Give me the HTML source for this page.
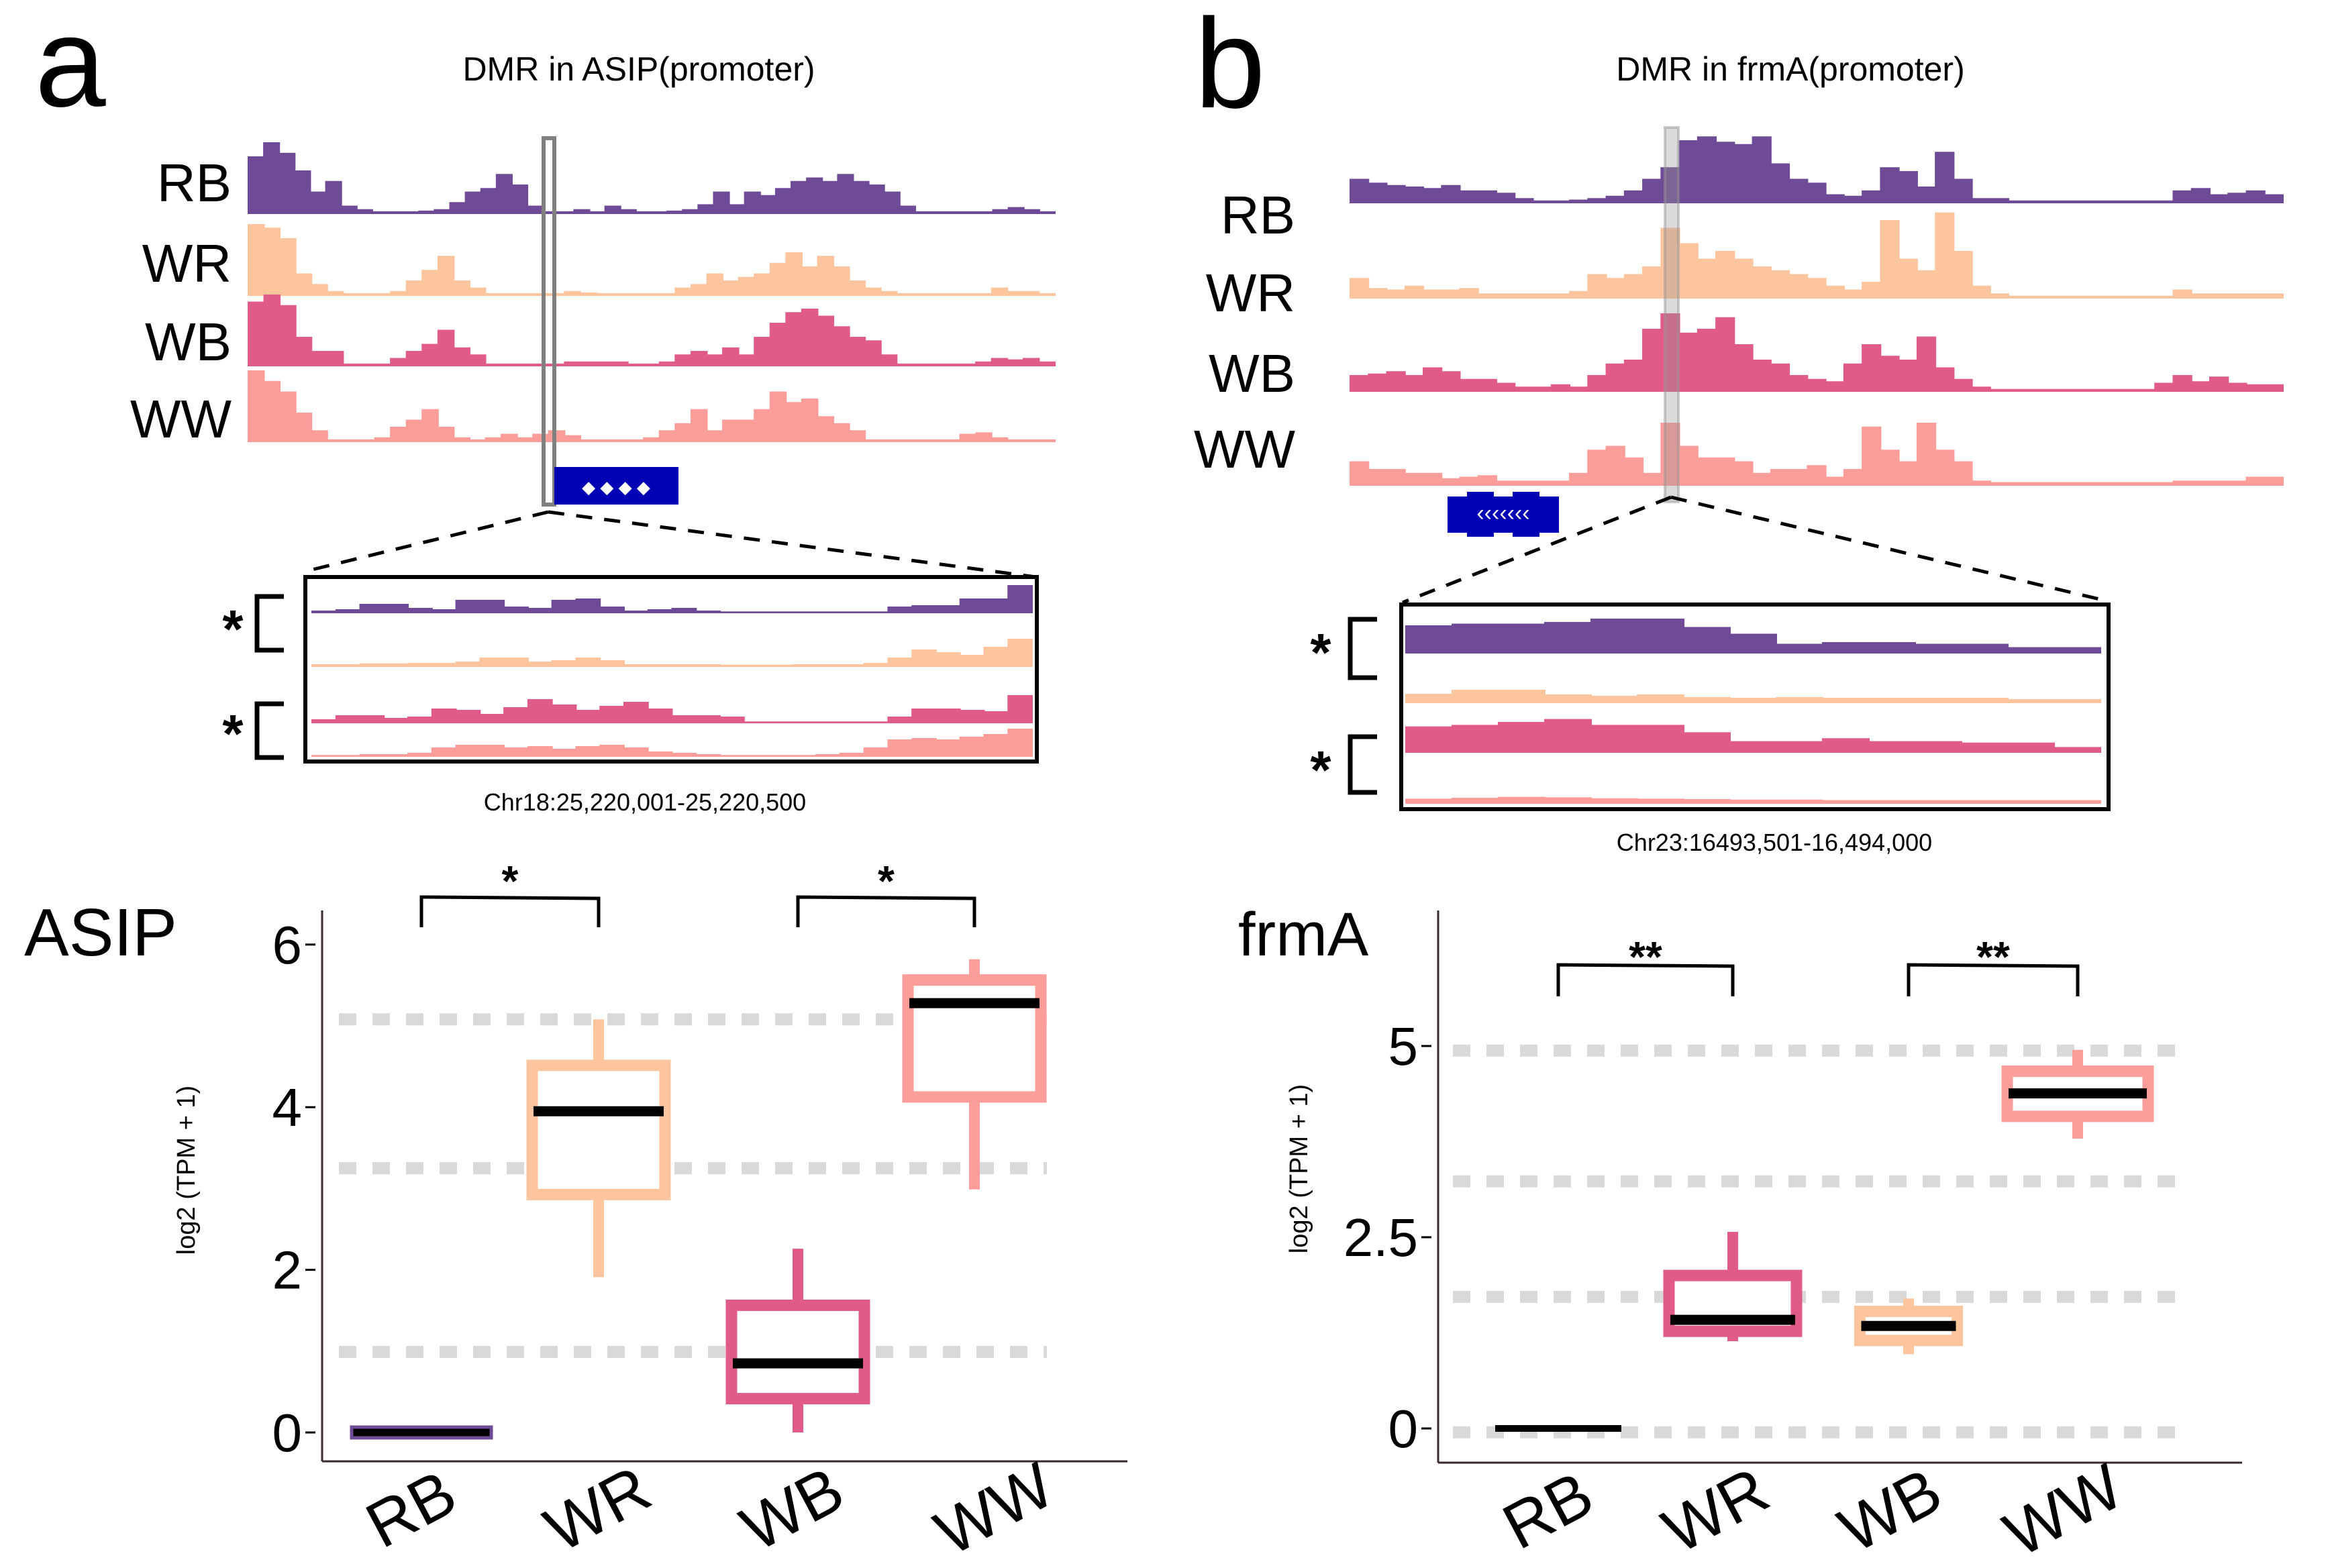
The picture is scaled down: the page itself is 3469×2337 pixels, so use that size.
<!DOCTYPE html>
<html><head><meta charset="utf-8"><style>
html,body{margin:0;padding:0;background:#fff}
svg{display:block}
text{font-family:"Liberation Sans",sans-serif}
</style></head><body>
<svg id="fig" width="3469" height="2337" viewBox="0 0 3469 2337" xmlns="http://www.w3.org/2000/svg">
<rect width="3469" height="2337" fill="#fff"/>
<text x="52" y="158" font-size="190">a</text>
<text x="1780" y="160" font-size="190">b</text>
<text x="952" y="120" font-size="50" text-anchor="middle">DMR in ASIP(promoter)</text>
<text x="2668" y="120" font-size="50" text-anchor="middle">DMR in frmA(promoter)</text>
<text x="961" y="1208" font-size="36" text-anchor="middle">Chr18:25,220,001-25,220,500</text>
<text x="2644" y="1268" font-size="36" text-anchor="middle">Chr23:16493,501-16,494,000</text>
<text x="36" y="1424" font-size="100">ASIP</text>
<text x="1845" y="1424" font-size="92">frmA</text>
<text transform="translate(290,1744) rotate(-90)" font-size="38" text-anchor="middle">log2 (TPM + 1)</text>
<text transform="translate(1948,1742) rotate(-90)" font-size="38" text-anchor="middle">log2 (TPM + 1)</text>
<g id="layer"></g>
</svg>
<script>
// ---------- data ----------
const groups = ["RB","WR","WB","WW"];
const colRB="#6f4a96", colWR="#fdc59e", colWB="#e05a8a", colWW="#fc9d9a";
const aRB=[0.8,1.0,0.85,0.6,0.3,0.45,0.1,0.05,0.02,0.02,0.02,0.03,0.05,0.15,0.3,0.35,0.55,0.4,0.1,0.02,0.02,0.05,0.02,0.1,0.05,0.02,0.02,0.03,0.05,0.12,0.3,0.12,0.3,0.25,0.35,0.45,0.5,0.45,0.55,0.45,0.4,0.3,0.1,0.02,0.02,0.02,0.02,0.02,0.05,0.08,0.05,0.02];
const aWR=[1.0,0.95,0.8,0.3,0.15,0.05,0.02,0.02,0.02,0.05,0.2,0.35,0.55,0.2,0.1,0.02,0.02,0.02,0.02,0.02,0.05,0.03,0.02,0.02,0.02,0.02,0.02,0.1,0.15,0.3,0.2,0.25,0.3,0.45,0.6,0.4,0.55,0.4,0.2,0.1,0.05,0.02,0.02,0.02,0.02,0.02,0.02,0.1,0.05,0.05,0.02];
const aWB=[0.9,1.0,0.85,0.4,0.2,0.2,0.02,0.02,0.02,0.1,0.2,0.3,0.5,0.25,0.15,0.02,0.02,0.02,0.02,0.02,0.05,0.05,0.05,0.05,0.02,0.02,0.05,0.15,0.2,0.15,0.25,0.15,0.4,0.6,0.75,0.8,0.7,0.55,0.4,0.35,0.15,0.02,0.02,0.02,0.02,0.02,0.05,0.1,0.08,0.1,0.05];
const aWW=[1.0,0.85,0.7,0.4,0.15,0.02,0.02,0.02,0.05,0.2,0.3,0.45,0.2,0.05,0.02,0.05,0.1,0.05,0.1,0.15,0.08,0.02,0.02,0.02,0.02,0.05,0.15,0.25,0.45,0.15,0.3,0.3,0.45,0.7,0.55,0.6,0.35,0.25,0.15,0.02,0.02,0.02,0.02,0.02,0.02,0.1,0.12,0.05,0.02,0.02,0.02];
const bRB=[0.3,0.25,0.22,0.2,0.18,0.22,0.15,0.15,0.12,0.05,0.02,0.02,0.03,0.05,0.08,0.15,0.3,0.45,0.8,0.85,0.78,0.75,0.85,0.5,0.3,0.25,0.1,0.08,0.15,0.45,0.4,0.2,0.65,0.3,0.05,0.05,0.02,0.02,0.02,0.02,0.02,0.02,0.02,0.02,0.02,0.15,0.18,0.1,0.12,0.15,0.1];
const bWR=[0.25,0.12,0.1,0.15,0.1,0.1,0.12,0.05,0.05,0.05,0.05,0.05,0.08,0.3,0.25,0.3,0.4,0.9,0.7,0.5,0.6,0.5,0.4,0.35,0.3,0.25,0.15,0.1,0.2,1.0,0.5,0.35,1.1,0.6,0.15,0.05,0.02,0.02,0.02,0.02,0.02,0.02,0.02,0.02,0.02,0.1,0.05,0.05,0.05,0.05,0.05];
const bWB=[0.2,0.22,0.25,0.2,0.3,0.25,0.15,0.15,0.1,0.05,0.05,0.08,0.05,0.2,0.35,0.4,0.8,1.0,0.75,0.8,0.95,0.6,0.4,0.35,0.2,0.15,0.12,0.35,0.6,0.45,0.4,0.7,0.3,0.15,0.05,0.02,0.02,0.02,0.02,0.02,0.02,0.02,0.02,0.02,0.1,0.2,0.12,0.18,0.1,0.08,0.08];
const bWW=[0.3,0.2,0.2,0.15,0.15,0.08,0.1,0.12,0.05,0.05,0.05,0.05,0.15,0.45,0.5,0.35,0.15,0.8,0.5,0.35,0.35,0.3,0.15,0.2,0.2,0.25,0.1,0.2,0.75,0.45,0.3,0.8,0.45,0.3,0.05,0.03,0.03,0.03,0.03,0.03,0.03,0.03,0.03,0.03,0.03,0.05,0.05,0.05,0.05,0.1,0.1];
const aZRB=[0.05,0.1,0.3,0.3,0.15,0.1,0.45,0.45,0.2,0.15,0.45,0.5,0.2,0.05,0.1,0.15,0.05,0.02,0.02,0.02,0.02,0.02,0.02,0.02,0.2,0.25,0.25,0.5,0.5,1.0];
const aZWR=[0.05,0.05,0.08,0.08,0.1,0.1,0.15,0.3,0.3,0.15,0.2,0.3,0.2,0.05,0.05,0.05,0.05,0.03,0.03,0.03,0.05,0.05,0.05,0.1,0.3,0.6,0.5,0.4,0.7,1.0];
const aZWB=[0.1,0.25,0.25,0.15,0.2,0.5,0.45,0.3,0.55,0.85,0.65,0.45,0.6,0.75,0.5,0.25,0.25,0.2,0.02,0.02,0.02,0.02,0.02,0.02,0.2,0.5,0.5,0.45,0.4,1.0];
const aZWW=[0.02,0.02,0.05,0.05,0.1,0.3,0.4,0.4,0.3,0.35,0.25,0.35,0.4,0.3,0.15,0.1,0.05,0.02,0.02,0.02,0.02,0.05,0.1,0.3,0.6,0.65,0.6,0.7,0.8,1.0];
const bZRB=[0.8,0.85,0.85,0.9,1.0,1.0,0.75,0.55,0.25,0.3,0.3,0.25,0.25,0.15,0.15];
const bZWR=[0.6,0.9,0.9,0.55,0.45,0.55,0.35,0.3,0.35,0.3,0.3,0.3,0.3,0.2,0.2];
const bZWB=[0.85,0.9,1.0,1.1,0.9,0.9,0.65,0.35,0.35,0.45,0.35,0.35,0.3,0.3,0.15];
const bZWW=[0.4,0.5,0.6,0.55,0.45,0.4,0.35,0.3,0.3,0.25,0.25,0.25,0.25,0.25,0.25];
const asipQ1=[0,2.86,0.35,4.06], asipQ3=[0,4.58,1.63,5.63], asipMed=[0,3.95,0.85,5.28], asipLo=[0,1.91,0,2.99], asipHi=[0,5.08,2.26,5.82];
const asipTicks=[0,2,4,6], asipRef=[5.08,3.25,0.99];
const frmaQ1=[0,1.2,1.08,4.01], frmaQ3=[0,2.07,1.6,4.74], frmaMed=[0,1.42,1.34,4.38], frmaLo=[0,1.14,0.97,3.79], frmaHi=[0,2.57,1.7,4.95];
const frmaTicks=[0,2.5,5], frmaTickLabels=["0","2.5","5"], frmaRef=[4.94,3.23,1.72,-0.05];
// ---------- helpers ----------
const NS="http://www.w3.org/2000/svg";
const layer=document.getElementById("layer");
function mk(tag,attrs,parent){const e=document.createElementNS(NS,tag);for(const k in attrs)e.setAttribute(k,attrs[k]);(parent||layer).appendChild(e);return e;}
function track(vals,x0,x1,base,h,color,name){
  const w=(x1-x0)/vals.length;let d="M"+x0+","+base;
  vals.forEach((v,i)=>{const y=base-v*h;d+=" L"+(x0+i*w)+","+y+" L"+(x0+(i+1)*w)+","+y;});
  d+=" L"+x1+","+base+" Z";
  const p=mk("path",{d:d,fill:color,stroke:color,"stroke-width":2});
  
  
}
function label(txt,x,y,size,anchor,name,extra){
  const t=mk("text",Object.assign({x:x,y:y,"font-size":size,"text-anchor":anchor},extra||{}));t.textContent=txt;
  
  
  return t;
}
function line(x1,y1,x2,y2,stroke,w,name,dash){
  const l=mk("line",{x1:x1,y1:y1,x2:x2,y2:y2,stroke:stroke,"stroke-width":w});
  if(dash)l.setAttribute("stroke-dasharray",dash);
  
  
}
function bracket(x,y1,y2,name){
  const p=mk("path",{d:"M"+(x+40)+","+y1+" L"+x+","+y1+" L"+x+","+y2+" L"+(x+40)+","+y2,fill:"none",stroke:"#000","stroke-width":7});
  
  
}
const colors=[colRB,colWR,colWB,colWW];
const aT=[aRB,aWR,aWB,aWW], aBase=[318,440,545,658], aLblY=[300,420,537,652];
aT.forEach((v,i)=>{track(v,370,1572,aBase[i],105,colors[i],"asip-track-"+groups[i].toLowerCase());
  line(370,aBase[i],1572,aBase[i],colors[i],2,"asip-track-baseline-"+groups[i].toLowerCase());
  label(groups[i],345,aLblY[i],80,"end","asip-track-label-"+groups[i].toLowerCase());});
const bT=[bRB,bWR,bWB,bWW], bBase=[302,444,583,723], bLblY=[348,464,584,697];
bT.forEach((v,i)=>{track(v,2012,3402,bBase[i],115,colors[i],"frma-track-"+groups[i].toLowerCase());
  label(groups[i],1930,bLblY[i],80,"end","frma-track-label-"+groups[i].toLowerCase());});
let r=mk("rect",{x:810,y:206,width:16,height:546,fill:"none",stroke:"#808080","stroke-width":6});

r=mk("rect",{x:2481,y:190,width:20,height:558,fill:"rgba(150,150,150,0.35)",stroke:"rgba(150,150,150,0.5)","stroke-width":4});

r=mk("rect",{x:826,y:696,width:185,height:56,fill:"#0000b4"});

label("◆  ◆  ◆  ◆",918,735,26,"middle","asip-gene-strand-arrows",{fill:"#fff"});
r=mk("rect",{x:2157,y:740,width:166,height:54,fill:"#0000b4"});

r=mk("rect",{x:2186,y:733,width:40,height:67,fill:"#0000b4"});

r=mk("rect",{x:2254,y:733,width:40,height:67,fill:"#0000b4"});

label("‹‹‹‹‹‹‹",2240,776,34,"middle","frma-gene-strand-arrows",{fill:"#fff"});
line(817,763,453,852,"#000",5,"asip-zoom-line-left","24,18");
line(817,763,1544,860,"#000",5,"asip-zoom-line-right","24,18");
line(2490,741,2090,898,"#000",5,"frma-zoom-line-left","24,18");
line(2490,741,3141,896,"#000",5,"frma-zoom-line-right","24,18");
r=mk("rect",{x:455,y:860,width:1090,height:275,fill:"none",stroke:"#000","stroke-width":6});

r=mk("rect",{x:2088,y:901,width:1054,height:305,fill:"none",stroke:"#000","stroke-width":6});

const aZ=[aZRB,aZWR,aZWB,aZWW], aZBase=[913,993,1077,1127];
aZ.forEach((v,i)=>{track(v,465,1538,aZBase[i],40,colors[i],"asip-zoom-track-"+groups[i].toLowerCase());});
const bZ=[bZRB,bZWR,bZWB,bZWW], bZBase=[973,1047,1121,1197];
const bZH=[50,20,44,14];
bZ.forEach((v,i)=>{track(v,2095,3130,bZBase[i],bZH[i],colors[i],"frma-zoom-track-"+groups[i].toLowerCase());});
bracket(383,889,969,"asip-zoom-bracket-1");bracket(383,1049,1129,"asip-zoom-bracket-2");
label("*",347,965,80,"middle","asip-zoom-star-1",{"font-weight":"bold"});label("*",347,1121,80,"middle","asip-zoom-star-2",{"font-weight":"bold"});
bracket(2012,923,1010,"frma-zoom-bracket-1");bracket(2012,1098,1181,"frma-zoom-bracket-2");
label("*",1968,1000,80,"middle","frma-zoom-star-1",{"font-weight":"bold"});label("*",1968,1175,80,"middle","frma-zoom-star-2",{"font-weight":"bold"});

function boxplot(cfg){
  const ys=v=>cfg.y0-v*cfg.k;
  line(cfg.ax,cfg.top,cfg.ax,cfg.bottom,"#3a2a2a",3,cfg.p+"-y-axis");
  line(cfg.ax,cfg.bottom,cfg.axEnd,cfg.bottom,"#3a2a2a",3,cfg.p+"-x-axis");
  cfg.ref.forEach((v,i)=>line(cfg.refX0,ys(v),cfg.refX1,ys(v),"#d9d9d9",18,cfg.p+"-reference-line-"+(i+1),"26,24"));
  cfg.ticks.forEach((v,i)=>{line(cfg.ax-25,ys(v),cfg.ax-10,ys(v),"#000",3,cfg.p+"-y-tick-"+i);
    label(cfg.tickLabels[i],cfg.ax-30,ys(v)+28,80,"end",cfg.p+"-y-tick-label-"+i);});
  groups.forEach((g,i)=>{
    const cx=cfg.cx[i], w=cfg.w[i], c=cfg.col[i], gn=g.toLowerCase();
    if(cfg.q3[i]>cfg.q1[i]){
      line(cx,ys(cfg.hi[i]),cx,ys(cfg.lo[i]),c,16,cfg.p+"-whisker-"+gn);
      const b=mk("rect",{x:cx-w/2+8,y:ys(cfg.q3[i])+8,width:w-16,height:ys(cfg.q1[i])-ys(cfg.q3[i])-16,fill:"#fff",stroke:c,"stroke-width":17});
      
      
    } else if(cfg.zeroBox){
      const b=mk("rect",{x:cx-w/2+3,y:ys(cfg.med[i])-8,width:w-6,height:16,fill:"#000",stroke:colRB,"stroke-width":5});
      
      
    }
    line(cx-w/2+10,ys(cfg.med[i]),cx+w/2-10,ys(cfg.med[i]),"#000",cfg.q3[i]>cfg.q1[i]?15:10,cfg.p+"-median-"+gn);
    label(g,0,0,96,"middle",cfg.p+"-x-label-"+gn,{transform:"translate("+cfg.lx[i]+","+(cfg.bottom+100)+") rotate(-28)"});
  });
  cfg.brackets.forEach((b,j)=>{
    const x1=cfg.cx[b[0]], x2=cfg.cx[b[1]];
    const p=mk("path",{d:"M"+x1+","+(cfg.brY+cfg.brH)+" L"+x1+","+cfg.brY+" L"+x2+","+(cfg.brY+2)+" L"+x2+","+(cfg.brY+cfg.brH),fill:"none",stroke:"#000","stroke-width":5});
    
    
    label(cfg.star,(x1+x2)/2,cfg.brY+cfg.starDy,64,"middle",cfg.p+"-significance-star-"+(j+1),{"font-weight":"bold"});
  });
}
boxplot({p:"asip",y0:2135,k:121.2,ax:480,top:1357,bottom:2178,axEnd:1680,refX0:505,refX1:1560,
  ticks:asipTicks,tickLabels:asipTicks.map(String),ref:asipRef,cx:[628,892,1189,1452],lx:[628,906,1196,1497],w:[214,214,214,214],
  col:[colRB,colWR,colWB,colWW],q1:asipQ1,q3:asipQ3,med:asipMed,lo:asipLo,hi:asipHi,zeroBox:true,
  brackets:[[0,1],[2,3]],brY:1337,brH:45,star:"*",starDy:-2});
boxplot({p:"frma",y0:2129,k:114,ax:2143,top:1357,bottom:2180,axEnd:3341,refX0:2165,refX1:3250,
  ticks:frmaTicks,tickLabels:frmaTickLabels,ref:frmaRef,cx:[2322,2582,2844,3096],lx:[2322,2572,2832,3090],w:[208,206,161,226],
  col:[colRB,colWB,colWR,colWW],q1:frmaQ1,q3:frmaQ3,med:frmaMed,lo:frmaLo,hi:frmaHi,zeroBox:false,
  brackets:[[0,1],[2,3]],brY:1438,brH:47,star:"**",starDy:10});
</script>
</body></html>
